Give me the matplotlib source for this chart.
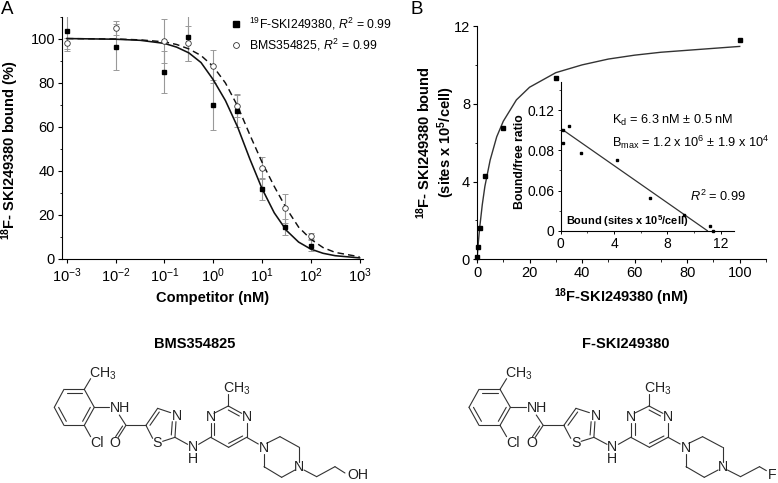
import numpy as np
import matplotlib
matplotlib.use("Agg")
import matplotlib.pyplot as plt
from matplotlib.lines import Line2D

plt.rcParams.update({
    "font.family": "Liberation Sans",
    "mathtext.fontset": "custom",
    "mathtext.rm": "Liberation Sans",
    "mathtext.it": "Liberation Sans:italic",
    "mathtext.bf": "Liberation Sans:bold",
    "font.size": 10.5,
    "axes.linewidth": 0.8,
})

W, H = 778, 483

# --- Panel A data ---
conc = [0.001, 0.01, 0.1, 0.3, 1, 3, 10, 30, 100]
ski_bound = [103.5, 96.5, 85, 101, 70, 67.5, 32, 14.5, 6]
ski_err = [9, 10.5, 9.5, 11, 11.5, 7.5, 5, 3.8, 2.5]
bms_bound = [98, 105, 99, 98, 87.5, 69.5, 41.5, 23, 10.5]
bms_err = [2.5, 3, 10, 8, 7.5, 5, 5, 6.5, 1.5]

fit_conc = [0.001, 0.01, 0.032, 0.1, 0.178, 0.316, 0.562, 1, 1.78, 3.16, 5.62,
            10, 17.8, 31.6, 56.2, 100, 178, 316, 1000]
ski_fit = [100.2, 99.9, 99.4, 98, 96.3, 93.7, 89.3, 81.5, 72, 60, 45.5,
           32, 21, 13, 7.7, 4.5, 2.6, 1.5, 0.5]
bms_fit = [100.2, 100, 99.6, 98.7, 97.5, 95.5, 92.5, 87.5, 80, 69.5, 56.5,
           44, 33, 23, 14.5, 9, 5.2, 3, 1]

# --- Panel B data ---
sat_x = [0.1, 0.3, 1, 3, 10, 30, 100]
sat_y = [0.1, 0.65, 1.6, 4.3, 6.75, 9.3, 11.3]
sat_fit_x = [0, 0.5, 1, 2, 3, 5, 7.5, 10, 15, 20, 30, 40, 50, 60, 70, 80, 90, 100]
sat_fit_y = [0, 0.85, 1.6, 2.8, 3.75, 5.1, 6.3, 7.1, 8.2, 8.85, 9.6, 10, 10.3,
             10.5, 10.65, 10.75, 10.85, 10.95]

scat_x = [0.15, 0.2, 0.62, 1.53, 4.2, 6.67, 9.26, 11.2, 11.45]
scat_y = [0.0878, 0.1, 0.104, 0.077, 0.07, 0.033, 0.0156, 0.0047, 0.0]
scat_fit_x = [0, 11.0]
scat_fit_y = [0.102, 0.0]
# the reference prints 0.06 where the axis position is 0.04
scat_ticks = [0, 0.04, 0.08, 0.12]
scat_tick_labels = ["0", "0.06", "0.08", "0.12"]


def px_axes(left, right, top, bottom):
    # axes placed by pixel edges of the picture
    return fig.add_axes([left / W, 1 - bottom / H, (right - left) / W, (bottom - top) / H])


def clean(ax):
    ax.patch.set_alpha(0)
    ax.spines["top"].set_visible(False)
    ax.spines["right"].set_visible(False)


fig = plt.figure(figsize=(W / 100, H / 100), dpi=100)

# --- A ---
ax = px_axes(62, 363, 17, 259)
clean(ax)
ax.set_xscale("log")
ax.set_xlim(10 ** -3.1, 10 ** 3.07)
ax.set_ylim(0, 110)
ax.errorbar(conc, ski_bound, yerr=ski_err, fmt="none", ecolor="#999999", elinewidth=0.8,
            capsize=1.9, capthick=0.7)
ax.errorbar(conc, bms_bound, yerr=bms_err, fmt="none", ecolor="#999999", elinewidth=0.8,
            capsize=1.9, capthick=0.7)
ax.plot(fit_conc, bms_fit, color="#111111", lw=1.05, ls=(0, (4.5, 2.8)), clip_on=False)
ax.plot(fit_conc, ski_fit, color="#111111", lw=1.15, clip_on=False)
ax.plot(conc, bms_bound, "o", mfc="white", mec="#333333", mew=0.6, ms=4, ls="none", clip_on=False)
ax.plot(conc, ski_bound, "s", color="black", ms=3.4, ls="none", clip_on=False)
ax.set_xticks([10.0 ** p for p in range(-3, 4)])
ax.set_yticks([0, 20, 40, 60, 80, 100])
ax.set_yticks([10, 30, 50, 70, 90, 110], minor=True)
ax.tick_params(which="major", length=3, width=0.8, pad=2)
ax.tick_params(which="minor", length=1.8, width=0.6)
ax.set_xlabel("Competitor (nM)", fontweight="bold", fontsize=10.5, labelpad=4.5)
ax.set_ylabel(r"$^{\mathbf{18}}$F- SKI249380 bound (%)", fontweight="bold", fontsize=10.5, labelpad=7)
ax.yaxis.label.set_y(0.45)

handles = [
    Line2D([], [], marker="s", color="black", ms=3.8, ls="none"),
    Line2D([], [], marker="o", mfc="white", mec="#333333", mew=0.6, ms=4.2, ls="none"),
]
labels = [r"$^{19}$F-SKI249380, $\mathit{R}^2$ = 0.99", r"BMS354825, $\mathit{R}^2$ = 0.99"]
ax.legend(handles, labels, frameon=False, fontsize=8.8, loc="upper left",
          bbox_to_anchor=(229 / W, 1 - 16 / H), bbox_transform=fig.transFigure,
          borderaxespad=0, borderpad=0, handletextpad=0.45, labelspacing=0.38, handlelength=1.2)

# --- B ---
bx = px_axes(477, 766, 26, 259.3)
clean(bx)
bx.set_xlim(0, 110)
bx.set_ylim(0, 12)
bx.plot(sat_fit_x, sat_fit_y, color="#333333", lw=1.0)
bx.plot(sat_x, sat_y, "s", color="black", ms=3.5, ls="none", clip_on=False)
bx.set_xticks([0, 20, 40, 60, 80, 100])
bx.set_xticks([10, 30, 50, 70, 90, 110], minor=True)
bx.set_yticks([0, 4, 8, 12])
bx.set_yticks([2, 6, 10], minor=True)
bx.tick_params(which="major", length=3, width=0.8, pad=2)
bx.tick_params(which="minor", length=1.8, width=0.6)
bx.set_xlabel(r"$^{\mathbf{18}}$F-SKI249380 (nM)", fontweight="bold", fontsize=10.5, labelpad=4.5)
bx.set_ylabel("$^{\\mathbf{18}}$F- SKI249380 bound\n(sites x 10$^{\\mathbf{5}}$/cell)", fontweight="bold",
              fontsize=10.5, labelpad=-2.5, linespacing=1.15)

# --- inset ---
ins = px_axes(560.7, 734, 81.7, 230.7)
clean(ins)
ins.set_xlim(0, 13)
ins.set_ylim(0, 0.1485)
ins.plot(scat_fit_x, scat_fit_y, color="#333333", lw=0.9)
ins.plot(scat_x, scat_y, "s", color="black", ms=2.0, ls="none", clip_on=False)
ins.set_xticks([0, 4, 8, 12])
ins.set_xticks([2, 6, 10], minor=True)
ins.set_yticks(scat_ticks)
ins.set_yticklabels(scat_tick_labels)
ins.set_yticks([0.02, 0.06, 0.1, 0.14], minor=True)
ins.tick_params(which="major", length=2.5, width=0.7, pad=2, labelsize=10)
ins.tick_params(which="minor", length=1.5, width=0.5)
ins.set_ylabel("Bound/free ratio", fontweight="bold", fontsize=8.8, labelpad=1)
ins.yaxis.label.set_y(0.465)
ins.text(0.42, 0.0012, r"Bound (sites x 10$^{\mathbf{5}}$/cell)", fontweight="bold", fontsize=7.9, va="bottom")

# --- overlay in picture pixels for panel letters, notes and the structures ---
ov = fig.add_axes([0, 0, 1, 1], zorder=5)
ov.set_xlim(0, W)
ov.set_ylim(H, 0)
ov.axis("off")

ov.text(1, 9, "A", fontsize=13.5, ha="left", va="center")
ov.text(411, 9, "B", fontsize=13.5, ha="left", va="center")
ov.text(612, 120, r"K$_{\mathrm{d}}$ = 6.3 nM $\pm$ 0.5 nM", fontsize=9.2, va="center")
ov.text(612, 142, r"B$_{\mathrm{max}}$ = 1.2 x 10$^6$ $\pm$ 1.9 x 10$^4$", fontsize=9.2, va="center")
ov.text(690, 196, r"$\mathit{R}^2$ = 0.99", fontsize=9.2, va="center")
ov.text(194.5, 344, "BMS354825", fontweight="bold", fontsize=10.5, ha="center", va="center")
ov.text(626, 344, "F-SKI249380", fontweight="bold", fontsize=10.5, ha="center", va="center")

# structure drawn in zoomed drawing units, shared by both molecules
core_bonds = [
    (72, 208, 133, 208), (133, 208, 163, 262), (163, 262, 133, 316), (133, 316, 72, 316),
    (72, 316, 43, 262), (43, 262, 72, 208), (80, 220, 127, 220), (56, 262, 79, 304),
    (151, 262, 128, 304), (133, 208, 152, 176), (133, 316, 152, 350), (163, 262, 208, 262),
    (238, 285, 258, 316), (258, 316, 235, 352), (248, 318, 227, 350), (258, 316, 318, 316),
    (318, 316, 353, 265), (330, 316, 358, 276), (353, 265, 392, 278), (408, 305, 405, 352),
    (397, 305, 394, 345), (405, 352, 368, 364), (338, 355, 318, 316), (405, 352, 443, 373),
    (476, 373, 512, 352), (512, 352, 512, 310), (523, 345, 523, 310), (522, 280, 565, 258),
    (565, 258, 605, 280), (565, 270, 598, 288), (620, 310, 620, 352), (620, 352, 566, 382),
    (608, 348, 566, 370), (566, 382, 512, 352), (565, 258, 565, 222), (620, 352, 655, 372),
    (680, 370, 720, 350), (720, 350, 778, 382), (778, 382, 778, 425), (765, 450, 725, 472),
    (725, 472, 672, 440), (672, 440, 672, 402), (792, 450, 830, 470), (830, 470, 885, 440),
]
core_labels = [
    (188, 162, "CH$_3$"), (240, 263, "NH"), (170, 370, "Cl"), (225, 370, "O"), (410, 288, "N"),
    (352, 368, "S"), (458, 380, "N"), (458, 418, "H"), (512, 292, "N"), (620, 292, "N"),
    (590, 206, "CH$_3$"), (672, 385, "N"), (778, 440, "N"),
]


def draw_molecule(x0, xscale, end_bond, end_label, end_x, end_y):
    def to_px(x, y):
        return x0 + (x - 43) / 3 * xscale, 320 + y / 3
    for x1, y1, x2, y2 in core_bonds + [end_bond]:
        a, b = to_px(x1, y1), to_px(x2, y2)
        ov.plot([a[0], b[0]], [a[1], b[1]], color="#333333", lw=0.8, solid_capstyle="round")
    for x, y, s in core_labels:
        px, py = to_px(x, y)
        ov.text(px, py, s, fontsize=10.2, color="#222222", ha="center", va="center")
    ov.text(end_x, end_y, end_label, fontsize=10.2, color="#222222", ha="center", va="center")


draw_molecule(54.3, 1.0, (885, 440, 915, 459), "OH", 358, 475)
draw_molecule(469, 1.035, (885, 440, 905, 452), "F", 772, 475)

fig.savefig("out.png", dpi=100)
